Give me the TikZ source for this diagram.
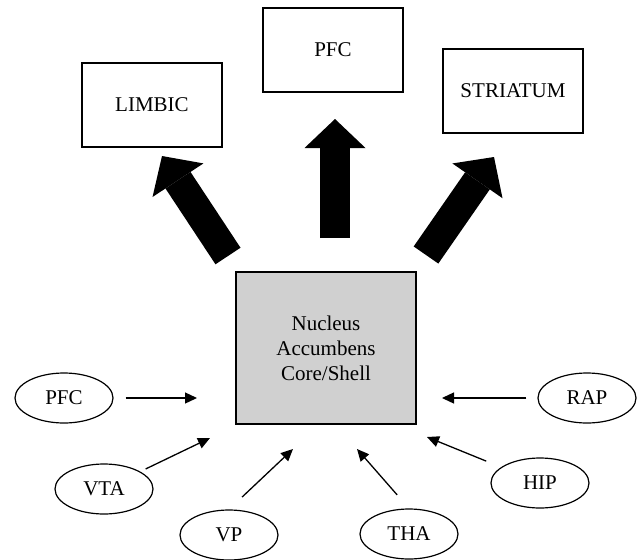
\documentclass[tikz,border=0pt]{standalone}
\usepackage{fontspec}
\setmainfont{Liberation Serif}
\usepackage{tikz}
\usetikzlibrary{arrows.meta,shapes.geometric}
\definecolor{nacgray}{RGB}{208,208,208}
\newcommand{\txt}{\fontsize{10.5}{12.5}\selectfont}

\tikzset{
  region/.style={draw, line width=0.6pt, minimum width=70pt, minimum height=42pt, inner sep=0pt, font=\txt},
  core/.style={draw, fill=nacgray, line width=0.6pt, minimum width=90pt, minimum height=76pt, inner sep=0pt, align=center, font=\txt},
  input/.style={draw, ellipse, line width=0.6pt, minimum width=49pt, minimum height=25pt, inner sep=0pt, font=\txt},
  inarrow/.style={line width=0.65pt, -{Triangle[length=6pt,width=5.5pt]}},
  outarrow/.style={line width=15pt, -{Triangle[length=14.5pt,width=30.5pt,line width=0pt]}}
}

\begin{document}
\begin{tikzpicture}[x=0.5pt,y=-0.5pt]
\useasboundingbox (0,0) rectangle (639,559);

\node [region] (limbic) at (152,105) {LIMBIC};
\node [region] (pfcout) at (333,50) {PFC};
\node [region] (striatum) at (513,91) {STRIATUM};

\node [core] (nac) at (326,348) {Nucleus\\Accumbens\\Core/Shell};

\node [input] (pfc) at (64,398) {PFC};
\node [input] (vta) at (104,489) {VTA};
\node [input] (vp) at (229,535) {VP};
\node [input] (tha) at (409,534) {THA};
\node [input] (hip) at (540,483) {HIP};
\node [input] (rap) at (587,398) {RAP};

% outputs
\coordinate (nacl) at (228,256);
\coordinate (nacm) at (335,238);
\coordinate (nacr) at (426,255);
\coordinate (limbicin) at (162,156);
\coordinate (pfcoutin) at (335,119);
\coordinate (striatumin) at (494,157);

\draw [outarrow] (nacl) -- (limbicin);
\draw [outarrow] (nacm) -- (pfcoutin);
\draw [outarrow] (nacr) -- (striatumin);

% inputs
\coordinate (pfcin) at (197,398);
\coordinate (vtain) at (210,438);
\coordinate (vpin) at (293,449);
\coordinate (thain) at (357,449);
\coordinate (hipin) at (427,437);
\coordinate (rapin) at (442,398);

\draw [inarrow, shorten <=6pt] (pfc) -- (pfcin);
\draw [inarrow, shorten <=3pt] (vta) -- (vtain);
\draw [inarrow, shorten <=9pt] (vp.north) -- (vpin);
\draw [inarrow, shorten <=9pt] (tha.north) -- (thain);
\draw [inarrow, shorten <=8pt] (hip) -- (hipin);
\draw [inarrow, shorten <=5.5pt] (rap) -- (rapin);

%\draw [help lines] (0,0) grid (639,559);

\end{tikzpicture}
\end{document}
